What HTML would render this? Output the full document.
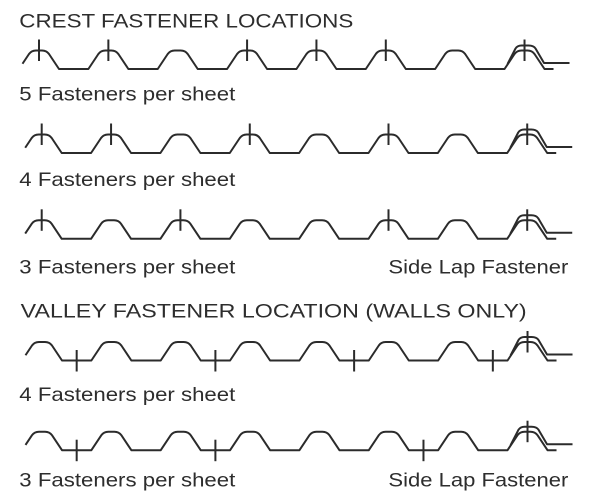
<!DOCTYPE html>
<html>
<head>
<meta charset="utf-8">
<style>
  html, body { margin: 0; padding: 0; background: #ffffff; }
  svg { display: block; }
  text { font-family: "Liberation Sans", Arial, sans-serif; font-size: 19.5px; fill: #2d2d2d; }
  .p { fill: none; stroke: #2b2b2b; stroke-width: 2; stroke-linejoin: round; stroke-linecap: butt; }
  .f { stroke: #2b2b2b; stroke-width: 2; }
</style>
</head>
<body>
<svg width="600" height="501" viewBox="0 0 600 501" xmlns="http://www.w3.org/2000/svg">
  <rect width="600" height="501" fill="#ffffff"/>

  <!-- Titles and labels -->
  <text x="19.3" y="27.3" textLength="334" lengthAdjust="spacingAndGlyphs">CREST FASTENER LOCATIONS</text>
  <text x="19.3" y="100.3" textLength="216" lengthAdjust="spacingAndGlyphs">5 Fasteners per sheet</text>
  <text x="19.3" y="186" textLength="216" lengthAdjust="spacingAndGlyphs">4 Fasteners per sheet</text>
  <text x="19.3" y="273.5" textLength="216" lengthAdjust="spacingAndGlyphs">3 Fasteners per sheet</text>
  <text x="388.4" y="273.5" textLength="180" lengthAdjust="spacingAndGlyphs">Side Lap Fastener</text>
  <text x="20.7" y="317.3" textLength="506" lengthAdjust="spacingAndGlyphs">VALLEY FASTENER LOCATION (WALLS ONLY)</text>
  <text x="19.3" y="401" textLength="216" lengthAdjust="spacingAndGlyphs">4 Fasteners per sheet</text>
  <text x="19.3" y="486.7" textLength="216" lengthAdjust="spacingAndGlyphs">3 Fasteners per sheet</text>
  <text x="388.4" y="486.7" textLength="180" lengthAdjust="spacingAndGlyphs">Side Lap Fastener</text>

  <!-- Row 1: c0=39, yT=50.5, yV=69 -->
  <path class="p" d="M22.5,63.75 l6.5,-9.75 q2.5,-3.5 7,-3.5 l6,0 q4.5,0 7,3.5 l10,15 l29.36,0
    l10,-15 q2.5,-3.5 7,-3.5 l6,0 q4.5,0 7,3.5 l10,15 l29.36,0
    l10,-15 q2.5,-3.5 7,-3.5 l6,0 q4.5,0 7,3.5 l10,15 l29.36,0
    l10,-15 q2.5,-3.5 7,-3.5 l6,0 q4.5,0 7,3.5 l10,15 l29.36,0
    l10,-15 q2.5,-3.5 7,-3.5 l6,0 q4.5,0 7,3.5 l10,15 l29.36,0
    l10,-15 q2.5,-3.5 7,-3.5 l6,0 q4.5,0 7,3.5 l10,15 l29.36,0
    l10,-15 q2.5,-3.5 7,-3.5 l6,0 q4.5,0 7,3.5 l10,15 l29.36,0
    l10,-15 q2.5,-3.5 7,-3.5 l6,0 q4.5,0 7,3.5 l10,15 l9,0"/>
  <path class="p" d="M507.52,64 l8,-15.5 q2,-3 6,-3 l7,0 q5,0 7,3 l8.5,14.5 l25.5,0"/>
  <g class="f">
    <line x1="39" y1="39.5" x2="39" y2="61"/>
    <line x1="108.36" y1="39.5" x2="108.36" y2="61"/>
    <line x1="247.08" y1="39.5" x2="247.08" y2="61"/>
    <line x1="316.44" y1="39.5" x2="316.44" y2="61"/>
    <line x1="385.8" y1="39.5" x2="385.8" y2="61"/>
    <line x1="524.52" y1="39.5" x2="524.52" y2="61"/>
  </g>

  <!-- Row 2: c0=41.7, yT=134.5, yV=153 -->
  <path class="p" d="M25.2,147.75 l6.5,-9.75 q2.5,-3.5 7,-3.5 l6,0 q4.5,0 7,3.5 l10,15 l29.36,0
    l10,-15 q2.5,-3.5 7,-3.5 l6,0 q4.5,0 7,3.5 l10,15 l29.36,0
    l10,-15 q2.5,-3.5 7,-3.5 l6,0 q4.5,0 7,3.5 l10,15 l29.36,0
    l10,-15 q2.5,-3.5 7,-3.5 l6,0 q4.5,0 7,3.5 l10,15 l29.36,0
    l10,-15 q2.5,-3.5 7,-3.5 l6,0 q4.5,0 7,3.5 l10,15 l29.36,0
    l10,-15 q2.5,-3.5 7,-3.5 l6,0 q4.5,0 7,3.5 l10,15 l29.36,0
    l10,-15 q2.5,-3.5 7,-3.5 l6,0 q4.5,0 7,3.5 l10,15 l29.36,0
    l10,-15 q2.5,-3.5 7,-3.5 l6,0 q4.5,0 7,3.5 l10,15 l9,0"/>
  <path class="p" d="M510.22,148 l8,-15.5 q2,-3 6,-3 l7,0 q5,0 7,3 l8.5,14.5 l25.5,0"/>
  <g class="f">
    <line x1="41.7" y1="123.5" x2="41.7" y2="145"/>
    <line x1="111.06" y1="123.5" x2="111.06" y2="145"/>
    <line x1="249.78" y1="123.5" x2="249.78" y2="145"/>
    <line x1="388.5" y1="123.5" x2="388.5" y2="145"/>
    <line x1="527.22" y1="123.5" x2="527.22" y2="145"/>
  </g>

  <!-- Row 3: c0=41.7, yT=220.3, yV=238.8 -->
  <path class="p" d="M25.2,233.55 l6.5,-9.75 q2.5,-3.5 7,-3.5 l6,0 q4.5,0 7,3.5 l10,15 l29.36,0
    l10,-15 q2.5,-3.5 7,-3.5 l6,0 q4.5,0 7,3.5 l10,15 l29.36,0
    l10,-15 q2.5,-3.5 7,-3.5 l6,0 q4.5,0 7,3.5 l10,15 l29.36,0
    l10,-15 q2.5,-3.5 7,-3.5 l6,0 q4.5,0 7,3.5 l10,15 l29.36,0
    l10,-15 q2.5,-3.5 7,-3.5 l6,0 q4.5,0 7,3.5 l10,15 l29.36,0
    l10,-15 q2.5,-3.5 7,-3.5 l6,0 q4.5,0 7,3.5 l10,15 l29.36,0
    l10,-15 q2.5,-3.5 7,-3.5 l6,0 q4.5,0 7,3.5 l10,15 l29.36,0
    l10,-15 q2.5,-3.5 7,-3.5 l6,0 q4.5,0 7,3.5 l10,15 l9,0"/>
  <path class="p" d="M510.22,233.8 l8,-15.5 q2,-3 6,-3 l7,0 q5,0 7,3 l8.5,14.5 l25.5,0"/>
  <g class="f">
    <line x1="41.7" y1="209.3" x2="41.7" y2="230.8"/>
    <line x1="180.42" y1="209.3" x2="180.42" y2="230.8"/>
    <line x1="388.5" y1="209.3" x2="388.5" y2="230.8"/>
    <line x1="527.22" y1="209.3" x2="527.22" y2="230.8"/>
  </g>

  <!-- Row 4: c0=42, yT=342, yV=360.5 -->
  <path class="p" d="M25.5,355.25 l6.5,-9.75 q2.5,-3.5 7,-3.5 l6,0 q4.5,0 7,3.5 l10,15 l29.36,0
    l10,-15 q2.5,-3.5 7,-3.5 l6,0 q4.5,0 7,3.5 l10,15 l29.36,0
    l10,-15 q2.5,-3.5 7,-3.5 l6,0 q4.5,0 7,3.5 l10,15 l29.36,0
    l10,-15 q2.5,-3.5 7,-3.5 l6,0 q4.5,0 7,3.5 l10,15 l29.36,0
    l10,-15 q2.5,-3.5 7,-3.5 l6,0 q4.5,0 7,3.5 l10,15 l29.36,0
    l10,-15 q2.5,-3.5 7,-3.5 l6,0 q4.5,0 7,3.5 l10,15 l29.36,0
    l10,-15 q2.5,-3.5 7,-3.5 l6,0 q4.5,0 7,3.5 l10,15 l29.36,0
    l10,-15 q2.5,-3.5 7,-3.5 l6,0 q4.5,0 7,3.5 l10,15 l9,0"/>
  <path class="p" d="M510.52,355.5 l8,-15.5 q2,-3 6,-3 l7,0 q5,0 7,3 l8.5,14.5 l25.5,0"/>
  <g class="f">
    <line x1="76.68" y1="350" x2="76.68" y2="371.5"/>
    <line x1="215.4" y1="350" x2="215.4" y2="371.5"/>
    <line x1="354.12" y1="350" x2="354.12" y2="371.5"/>
    <line x1="492.84" y1="350" x2="492.84" y2="371.5"/>
    <line x1="527.52" y1="331" x2="527.52" y2="352.5"/>
  </g>

  <!-- Row 5: c0=42, yT=431.7, yV=450.2 -->
  <path class="p" d="M25.5,444.95 l6.5,-9.75 q2.5,-3.5 7,-3.5 l6,0 q4.5,0 7,3.5 l10,15 l29.36,0
    l10,-15 q2.5,-3.5 7,-3.5 l6,0 q4.5,0 7,3.5 l10,15 l29.36,0
    l10,-15 q2.5,-3.5 7,-3.5 l6,0 q4.5,0 7,3.5 l10,15 l29.36,0
    l10,-15 q2.5,-3.5 7,-3.5 l6,0 q4.5,0 7,3.5 l10,15 l29.36,0
    l10,-15 q2.5,-3.5 7,-3.5 l6,0 q4.5,0 7,3.5 l10,15 l29.36,0
    l10,-15 q2.5,-3.5 7,-3.5 l6,0 q4.5,0 7,3.5 l10,15 l29.36,0
    l10,-15 q2.5,-3.5 7,-3.5 l6,0 q4.5,0 7,3.5 l10,15 l29.36,0
    l10,-15 q2.5,-3.5 7,-3.5 l6,0 q4.5,0 7,3.5 l10,15 l9,0"/>
  <path class="p" d="M510.52,445.2 l8,-15.5 q2,-3 6,-3 l7,0 q5,0 7,3 l8.5,14.5 l25.5,0"/>
  <g class="f">
    <line x1="76.68" y1="439.7" x2="76.68" y2="461.2"/>
    <line x1="215.4" y1="439.7" x2="215.4" y2="461.2"/>
    <line x1="423.48" y1="439.7" x2="423.48" y2="461.2"/>
    <line x1="527.52" y1="420.7" x2="527.52" y2="442.2"/>
  </g>
</svg>
</body>
</html>
